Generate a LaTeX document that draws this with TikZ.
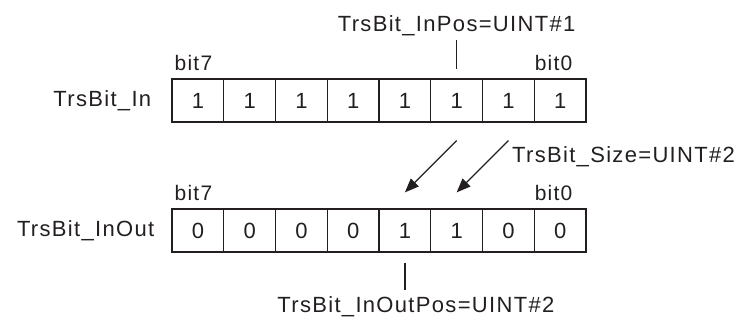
\documentclass[tikz,border=0pt]{standalone}
\usepackage{fontspec}
\setmainfont{Liberation Sans}[LetterSpace=6]
\usetikzlibrary{arrows.meta, positioning}
\definecolor{ink}{RGB}{35,31,32}

\begin{document}
\begin{tikzpicture}[
  x=1pt, y=1pt,
  every node/.style={font=\fontsize{22}{26}\selectfont, text=ink, inner sep=0pt},
  cell/.style={draw=ink, line width=1.2pt, minimum width=51.75pt, minimum height=43pt},
  bitlbl/.style={font=\fontsize{21}{25}\selectfont},
  tick/.style={draw=ink, line width=1.2pt},
  move/.style={-{Triangle[length=14pt, width=11pt]}, draw=ink, line width=1.3pt}
]
\useasboundingbox (0,0) rectangle (742,320);

% source and destination words, bit7 on the left
\foreach \v [count=\i from 0] in {1,1,1,1,1,1,1,1} {
  \pgfmathtruncatemacro\b{7-\i}
  \node[cell] (in\b) at (197.9+51.75*\i, 219.5) {\v};
}
\foreach \v [count=\i from 0] in {0,0,0,0,1,1,0,0} {
  \pgfmathtruncatemacro\b{7-\i}
  \node[cell] (out\b) at (197.9+51.75*\i, 89.5) {\v};
}

\node[left=20pt of in7, anchor=east] (inname) {TrsBit\_In};
\node[left=17pt of out7, anchor=east] (outname) {TrsBit\_InOut};

\node[bitlbl, anchor=base west] (inmsb) at ([xshift=3pt, yshift=8pt]in7.north west) {bit7};
\node[bitlbl, anchor=base east] (inlsb) at ([xshift=-14pt, yshift=8pt]in0.north east) {bit0};
\node[bitlbl, anchor=base west] (outmsb) at ([xshift=3pt, yshift=8pt]out7.north west) {bit7};
\node[bitlbl, anchor=base east] (outlsb) at ([xshift=-14pt, yshift=8pt]out0.north east) {bit0};

% position markers
\node[anchor=base] (inpos) at ([yshift=47pt]in2.north) {TrsBit\_InPos=UINT\#1};
\draw[tick] ([yshift=-4pt]inpos.south) -- ([yshift=9pt]in2.north);
\node[anchor=base] (outpos) at ([xshift=11pt, yshift=-60pt]out3.south) {TrsBit\_InOutPos=UINT\#2};
\draw[tick] ([yshift=-10pt]out3.south) -- ([xshift=-11pt, yshift=6pt]outpos.north);

% moved bits
\draw[move] ([yshift=-18pt]in2.south) -- ([yshift=16pt]out3.north);
\draw[move] ([yshift=-18pt]in1.south) -- ([yshift=16pt]out2.north);
\node[anchor=base west] (size) at ([xshift=3.6pt, yshift=-40pt]in1.south) {TrsBit\_Size=UINT\#2};

\end{tikzpicture}
\end{document}
